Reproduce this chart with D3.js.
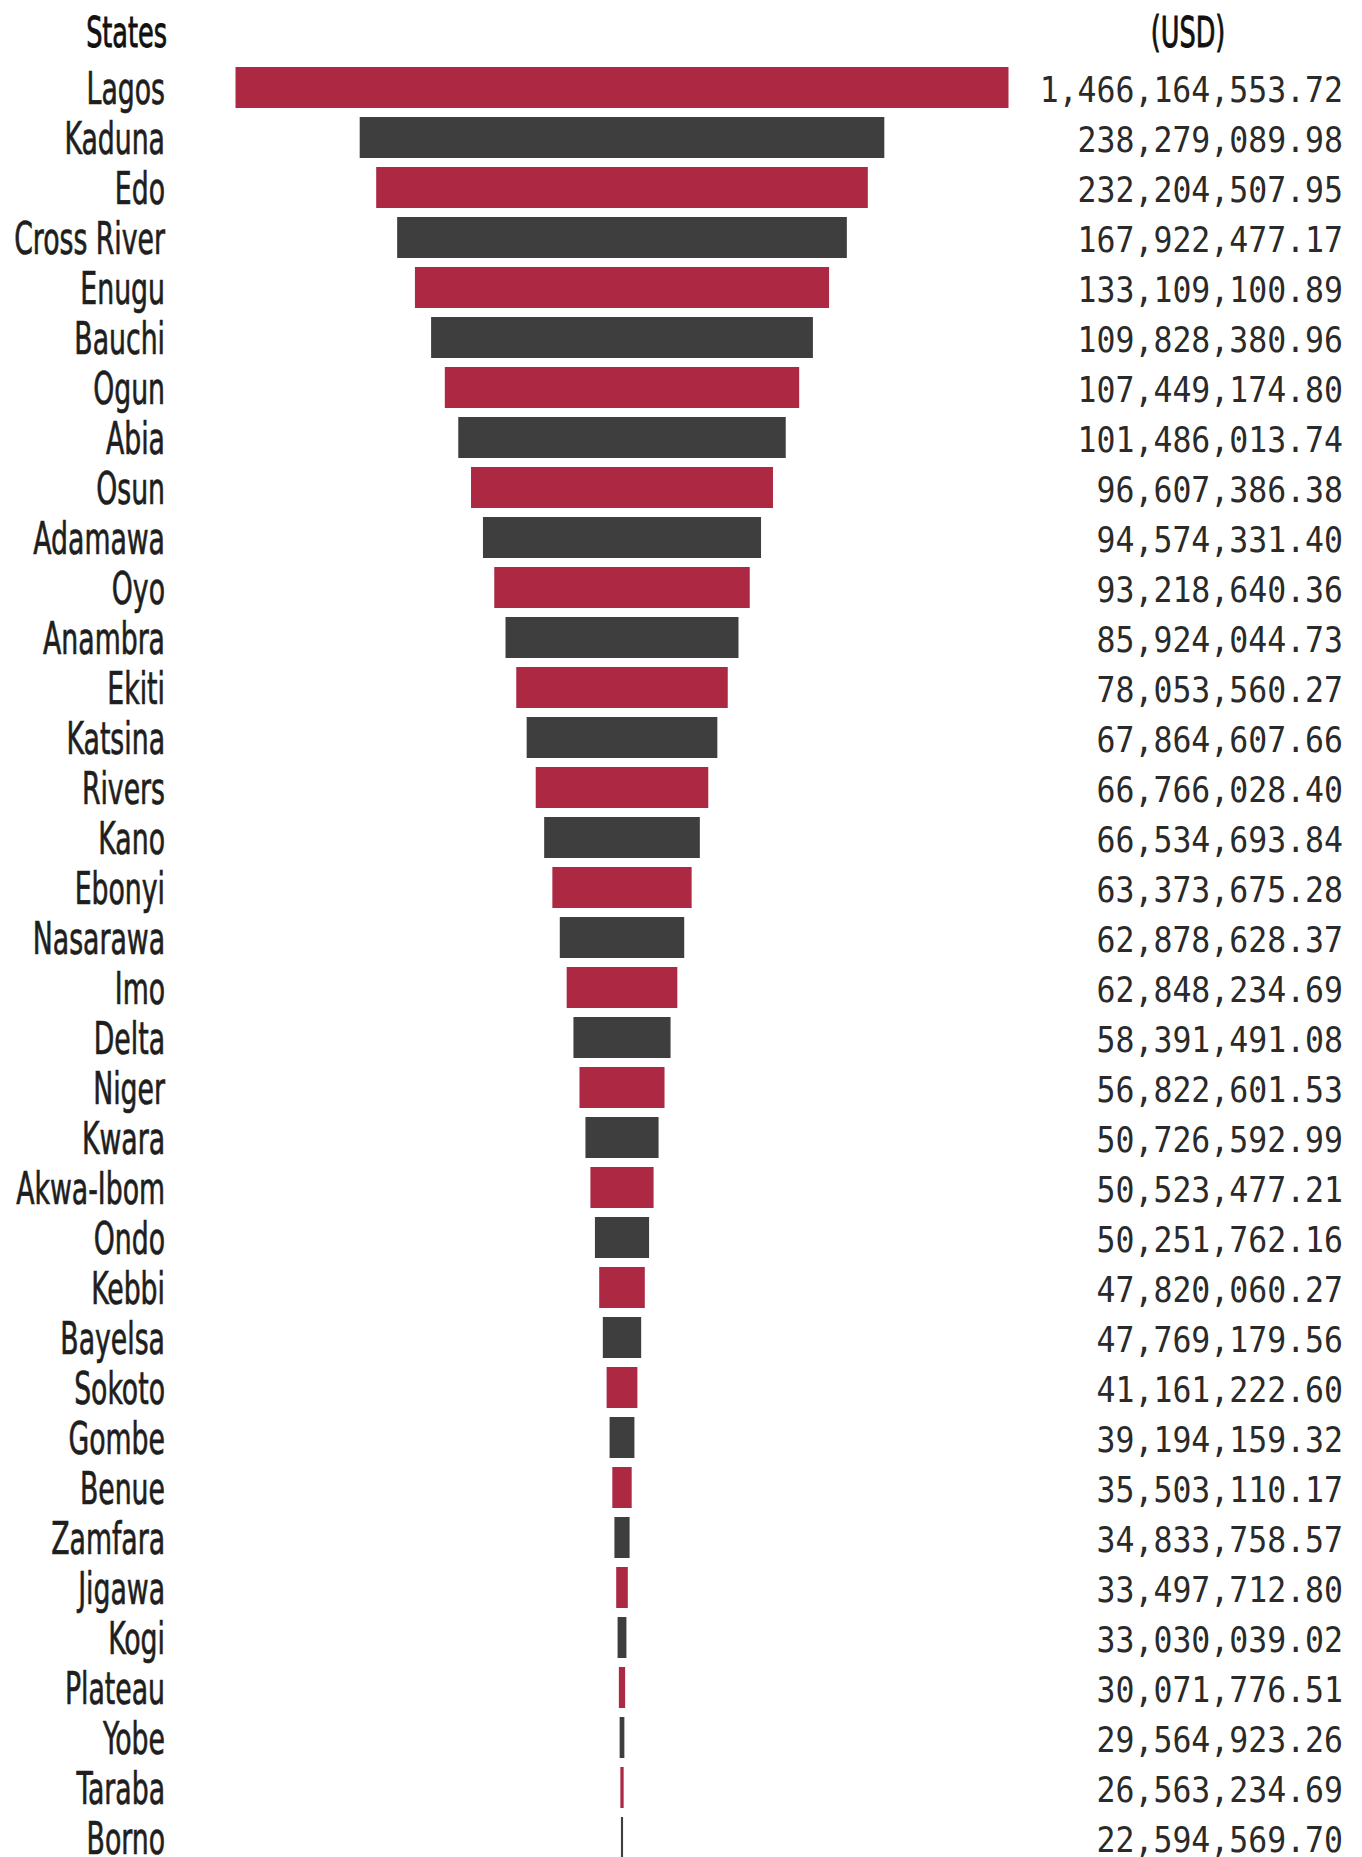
<!DOCTYPE html>
<html>
<head>
<meta charset="utf-8">
<script src="https://cdn.jsdelivr.net/npm/d3@7/dist/d3.min.js"></script>
<style>
  body { margin: 0; background: #fff; }
</style>
</head>
<body>
<svg width="1362" height="1857"></svg>
<script>
var states = ["Lagos", "Kaduna", "Edo", "Cross River", "Enugu", "Bauchi", "Ogun", "Abia", "Osun",
  "Adamawa", "Oyo", "Anambra", "Ekiti", "Katsina", "Rivers", "Kano", "Ebonyi", "Nasarawa", "Imo",
  "Delta", "Niger", "Kwara", "Akwa-Ibom", "Ondo", "Kebbi", "Bayelsa", "Sokoto", "Gombe", "Benue",
  "Zamfara", "Jigawa", "Kogi", "Plateau", "Yobe", "Taraba", "Borno"];

var amounts = [1466164553.72, 238279089.98, 232204507.95, 167922477.17, 133109100.89, 109828380.96,
  107449174.80, 101486013.74, 96607386.38, 94574331.40, 93218640.36, 85924044.73, 78053560.27,
  67864607.66, 66766028.40, 66534693.84, 63373675.28, 62878628.37, 62848234.69, 58391491.08,
  56822601.53, 50726592.99, 50523477.21, 50251762.16, 47820060.27, 47769179.56, 41161222.60,
  39194159.32, 35503110.17, 34833758.57, 33497712.80, 33030039.02, 30071776.51, 29564923.26,
  26563234.69, 22594569.70];

var headerLeft = "States",
    headerRight = "(USD)";

var barColors = ["#ad2842", "#3e3e3e"];

var labelFont = "'DejaVu Sans Condensed', 'DejaVu Sans', sans-serif",
    numberFont = "'DejaVu Sans Mono', 'Liberation Mono', monospace";

var svg = d3.select("svg"),
    centerX = 622,
    labelRight = 165,
    valueRight = 1343;

var yScale = d3.scaleBand()
    .domain(states)
    .range([62.5, 1862.5])
    .paddingInner(0.18)
    .paddingOuter(0.09);

// funnel look: length comes partly from the rank, partly from the amount
var rankScale = d3.scalePow().exponent(2.35)
    .domain([0, states.length])
    .range([2, 520]);
var amountScale = d3.scaleLinear()
    .domain(d3.extent(amounts))
    .range([0, 253]);

function barWidth(d, i) {
  return rankScale(states.length - i) + amountScale(d);
}

var fmt = d3.format(",.2f");

// bars
svg.append("g")
  .selectAll("rect")
  .data(amounts)
  .enter().append("rect")
    .attr("x", function(d, i) { return centerX - barWidth(d, i) / 2; })
    .attr("y", function(d, i) { return yScale(states[i]); })
    .attr("width", function(d, i) { return barWidth(d, i); })
    .attr("height", yScale.bandwidth())
    .attr("fill", function(d, i) { return barColors[i % 2]; });

// state names
svg.append("g")
  .selectAll("text")
  .data(states)
  .enter().append("text")
    .attr("transform", function(d) {
      return "translate(" + labelRight + "," + (yScale(d) + yScale.bandwidth() / 2 + 16) + ") scale(0.66,1)";
    })
    .attr("text-anchor", "end")
    .attr("font-family", labelFont)
    .attr("font-size", 45)
    .attr("fill", "#1e1e1e")
    .attr("stroke", "#1e1e1e")
    .attr("stroke-width", 0.7)
    .text(function(d) { return d; });

// amounts
svg.append("g")
  .selectAll("text")
  .data(amounts)
  .enter().append("text")
    .attr("transform", function(d, i) {
      return "translate(" + valueRight + "," + (yScale(states[i]) + yScale.bandwidth() / 2 + 14) + ") scale(0.875,1)";
    })
    .attr("text-anchor", "end")
    .attr("font-family", numberFont)
    .attr("font-size", 36)
    .attr("fill", "#2a2a2a")
    .text(function(d) { return fmt(d); });

// headers
svg.append("text")
  .attr("transform", "translate(" + (labelRight + 2) + ",47) scale(0.66,1)")
  .attr("text-anchor", "end")
  .attr("font-family", labelFont)
  .attr("font-size", 43)
  .attr("fill", "#111")
  .attr("stroke", "#111")
  .attr("stroke-width", 0.9)
  .text(headerLeft);

svg.append("text")
  .attr("transform", "translate(1188,47) scale(0.66,1)")
  .attr("text-anchor", "middle")
  .attr("font-family", labelFont)
  .attr("font-size", 43)
  .attr("fill", "#111")
  .attr("stroke", "#111")
  .attr("stroke-width", 0.9)
  .text(headerRight);
</script>
</body>
</html>
